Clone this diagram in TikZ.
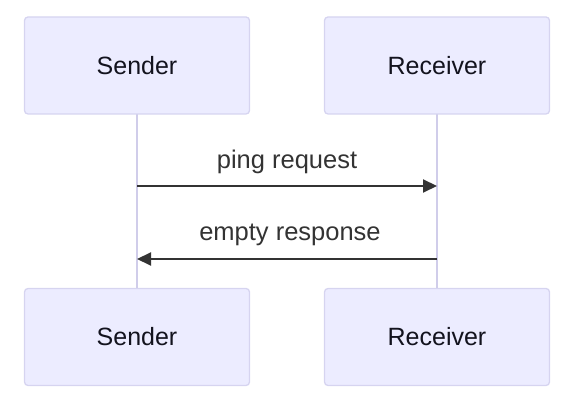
\documentclass[tikz,border=0pt]{standalone}
\usepackage{fontspec}
\setmainfont{Liberation Sans}
\usetikzlibrary{arrows.meta}
\definecolor{boxfill}{RGB}{236,236,255}
\definecolor{boxline}{RGB}{214,212,240}
\definecolor{lifeline}{RGB}{208,205,234}
\definecolor{msg}{RGB}{51,51,51}
\definecolor{actortext}{RGB}{19,19,30}
\tikzset{
  actor/.style={draw=boxline, fill=boxfill, line width=1.3pt, rounded corners=3.5pt,
    minimum width=225pt, minimum height=97pt, inner sep=0pt,
    font=\fontsize{25}{29}\selectfont, text=actortext},
  life/.style={draw=lifeline, line width=2pt},
  message/.style={draw=msg, line width=2pt, -{Triangle[length=14pt,width=13pt]}},
  msglabel/.style={font=\fontsize{25.5}{29}\selectfont, text=msg, inner sep=0pt}
}
\begin{document}
\begin{tikzpicture}[x=1pt,y=1pt]
\useasboundingbox (0,0) rectangle (572,406);
% lifelines
\draw[life] (137,406-114) -- (137,406-289);
\draw[life] (437,406-114) -- (437,406-289);
% actors
\node[actor] (s1) at (137,406-65.5) {\raisebox{-1pt}{Sender}};
\node[actor] (r1) at (437,406-65.5) {\raisebox{-1pt}{Receiver}};
\node[actor] (s2) at (137,406-337) {\raisebox{-1pt}{Sender}};
\node[actor] (r2) at (437,406-337) {\raisebox{-1pt}{Receiver}};
% messages
\coordinate (a1) at (137,406-186);
\coordinate (b1) at (437,406-186);
\coordinate (a2) at (437,406-259);
\coordinate (b2) at (137,406-259);
\draw[message] (a1) -- (b1);
\draw[message] (a2) -- (b2);
\node[msglabel] (l1) at (287,406-162) {ping request};
\node[msglabel] (l2) at (290,406-234.5) {empty response};
\end{tikzpicture}
\end{document}
